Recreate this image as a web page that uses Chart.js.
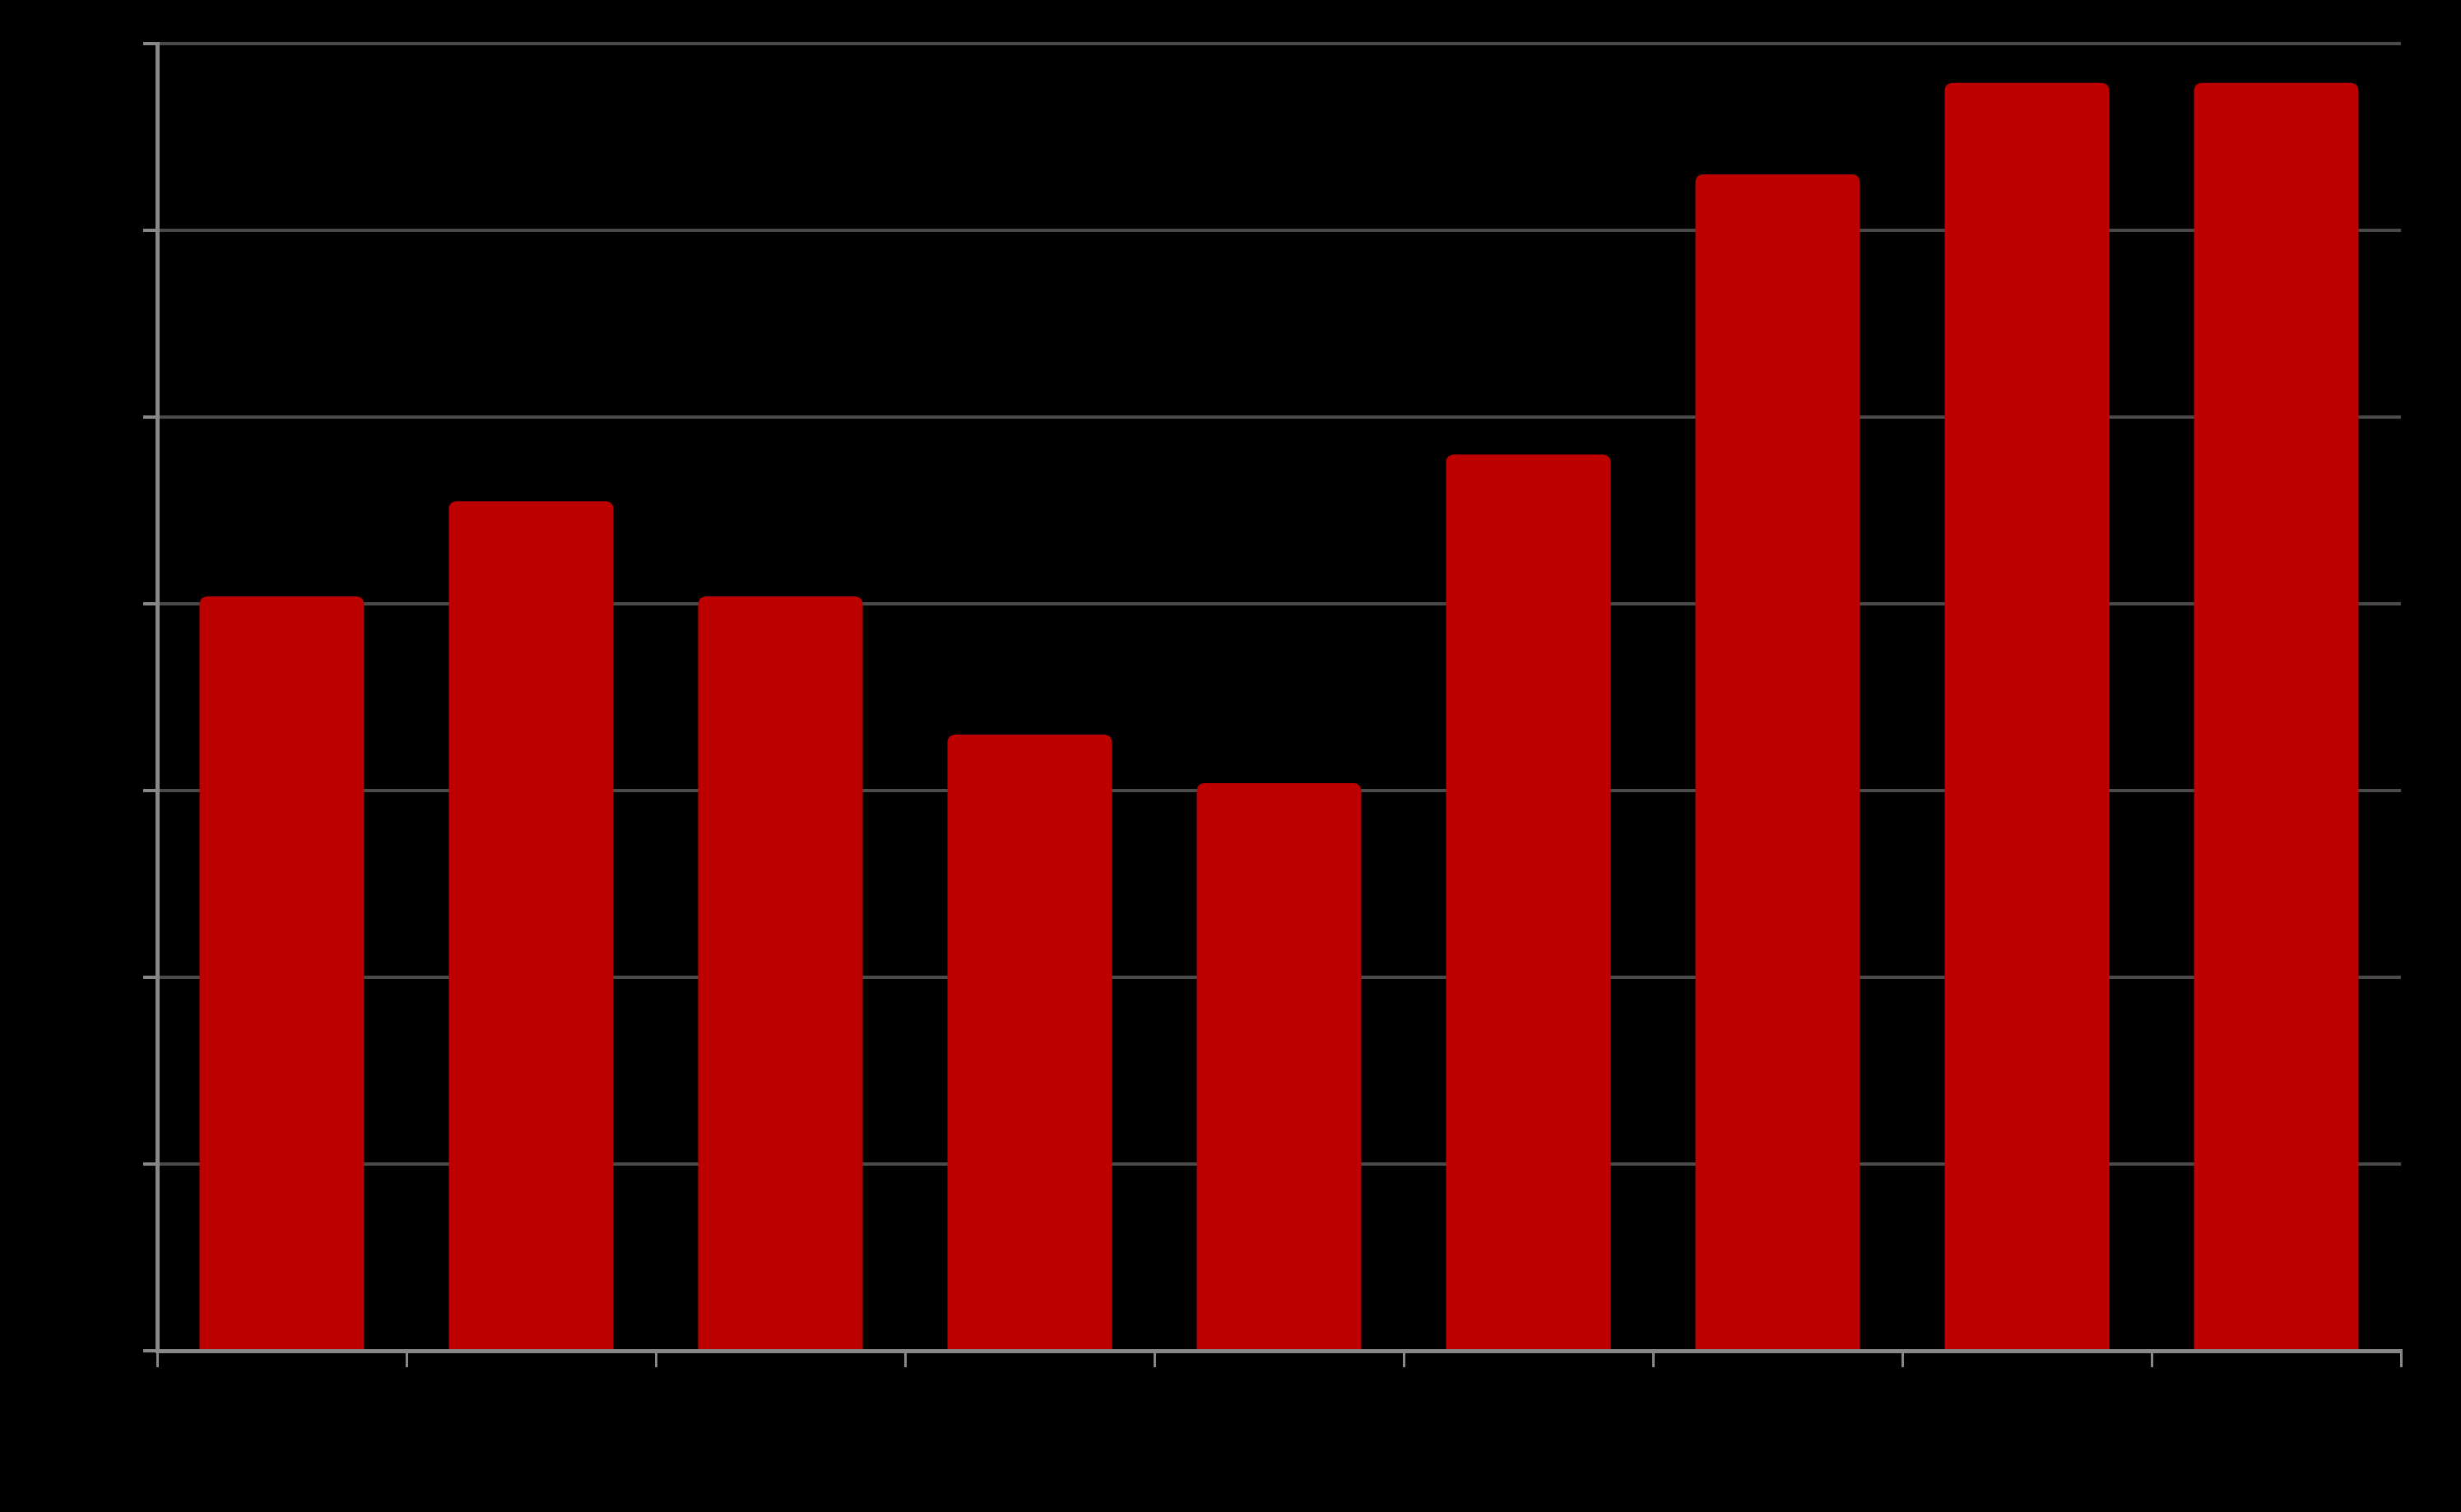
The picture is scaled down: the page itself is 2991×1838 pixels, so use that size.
<!DOCTYPE html>
<html>
<head>
<meta charset="utf-8">
<script src="https://cdn.jsdelivr.net/npm/chart.js@4/dist/chart.umd.min.js"></script>
<style>
  html, body { margin: 0; padding: 0; background: #000; }
  #wrap { width: 2991px; height: 1838px; }
</style>
</head>
<body>
<div id="wrap"><canvas id="barChart"></canvas></div>
<script>
// categories (labels are black on black in the source, so unreadable)
const categories = ['1', '2', '3', '4', '5', '6', '7', '8', '9'];
const values = [4.04, 4.55, 4.04, 3.30, 3.04, 4.80, 6.30, 6.79, 6.79];
const yTicks = [0, 1, 2, 3, 4, 5, 6, 7];

const ctx = document.getElementById('barChart').getContext('2d');
const chart = new Chart(ctx, {
    type: 'bar',
    data: {
        labels: categories,
        datasets: [{
            data: values,
            backgroundColor: '#bd0000',
            borderRadius: { topLeft: 9, topRight: 9, bottomLeft: 0, bottomRight: 0 },
            borderSkipped: false,
            barPercentage: 0.66,
            categoryPercentage: 1
        }]
    },
    options: {
        responsive: true,
        maintainAspectRatio: false,
        animation: false,
        layout: { padding: { top: 53, right: 73, left: 0, bottom: 0 } },
        plugins: {
            legend: { display: false },
            tooltip: { enabled: false }
        },
        scales: {
            x: {
                offset: true,
                grid: {
                    offset: true,
                    drawOnChartArea: false,
                    color: '#888',
                    lineWidth: 3,
                    tickLength: 20
                },
                border: { color: '#888', width: 5 },
                ticks: { color: '#000', font: { size: 28 } },
                afterFit: scale => { scale.height = 196; }
            },
            y: {
                min: 0,
                max: 7,
                afterBuildTicks: scale => { scale.ticks = yTicks.map(v => ({ value: v })); },
                grid: {
                    color: '#4a4a4a',
                    lineWidth: 4,
                    tickColor: '#888',
                    tickLength: 17
                },
                border: { color: '#888', width: 5 },
                ticks: { color: '#000', font: { size: 28 } },
                afterFit: scale => { scale.width = 191; }
            }
        }
    }
});
</script>
</body>
</html>
